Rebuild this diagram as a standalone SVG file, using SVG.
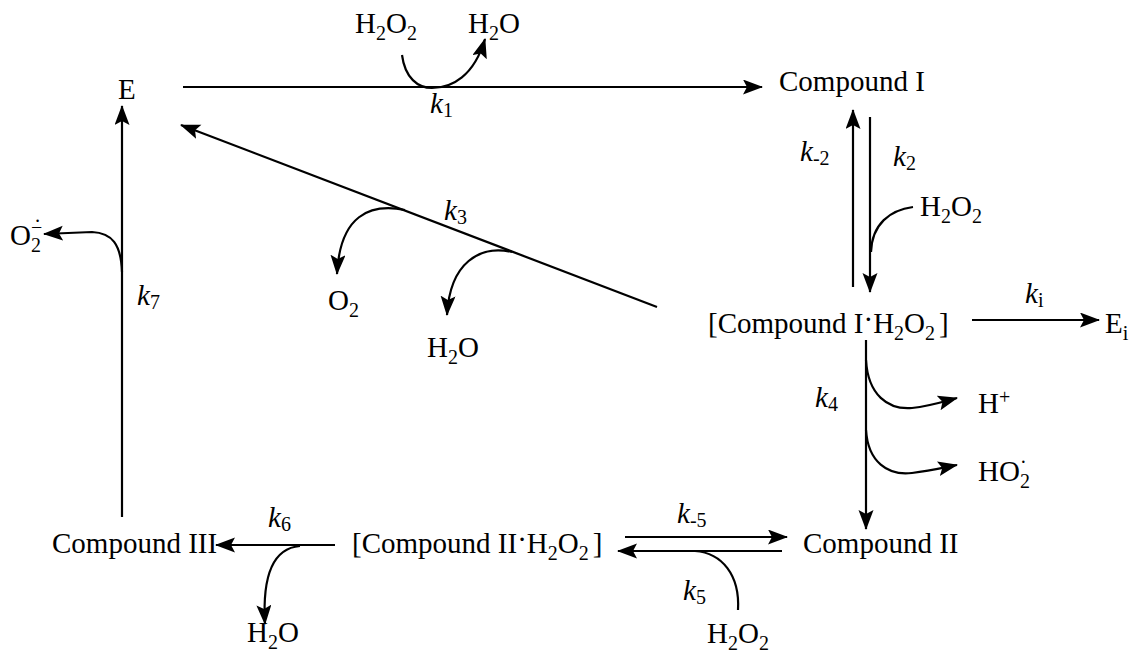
<svg xmlns="http://www.w3.org/2000/svg" width="1142" height="655" viewBox="0 0 1142 655">
<style>
text{font-family:"Liberation Serif","Times New Roman",serif;font-size:29px;fill:#000}
.k{font-style:italic}
.s{font-size:20px;font-style:normal}
.ln{fill:none;stroke:#000;stroke-width:2.2}
</style>
<defs>
<marker id="ah" markerUnits="userSpaceOnUse" markerWidth="22" markerHeight="16" refX="19" refY="7.5" orient="auto">
<path d="M0,0 L20,7.5 L0,15 L4,7.5 z" fill="#000"/>
</marker>
</defs>
<rect width="1142" height="655" fill="#fff"/>
<g id="connectors">
<path class="ln" d="M183,87 L762,87" marker-end="url(#ah)"/>
<path class="ln" d="M402,55 C405,78 418,88 432,88 C452,88 474,76 485,39" marker-end="url(#ah)"/>
<path class="ln" d="M853,287 L853,110" marker-end="url(#ah)"/>
<path class="ln" d="M870,117 L870,292" marker-end="url(#ah)"/>
<path class="ln" d="M913,207 C890,210 872,224 871,252"/>
<path class="ln" d="M972,320 L1099,320" marker-end="url(#ah)"/>
<path class="ln" d="M866,340 L866,529" marker-end="url(#ah)"/>
<path class="ln" d="M866,360 C868,395 888,410 912,408 C930,406 942,402 957,398" marker-end="url(#ah)"/>
<path class="ln" d="M866,430 C868,462 888,476 912,473 C930,471 942,468 957,465" marker-end="url(#ah)"/>
<path class="ln" d="M625,537 L787,537" marker-end="url(#ah)"/>
<path class="ln" d="M782,551 L618,551" marker-end="url(#ah)"/>
<path class="ln" d="M738,610 C740,575 722,553 695,551"/>
<path class="ln" d="M335,545 L216,545" marker-end="url(#ah)"/>
<path class="ln" d="M300,546 C275,548 262,572 265,624" marker-end="url(#ah)"/>
<path class="ln" d="M122,517 L122,106" marker-end="url(#ah)"/>
<path class="ln" d="M122,272 C121,244 112,233 92,232 L44,234" marker-end="url(#ah)"/>
<path class="ln" d="M657,307 L181,125" marker-end="url(#ah)"/>
<path class="ln" d="M405,210 C370,203 340,215 337,274" marker-end="url(#ah)"/>
<path class="ln" d="M512,252 C480,245 450,262 447,315" marker-end="url(#ah)"/>
</g>
<g id="E"><text x="118" y="99">E</text></g>
<g id="CompoundI"><text x="779" y="91">Compound I</text></g>
<g id="CompoundI_H2O2"><text x="708" y="333">[Compound I<tspan dy="-4">·</tspan><tspan dy="4">H</tspan><tspan class="s" dy="7">2</tspan><tspan dy="-7">O</tspan><tspan class="s" dy="7">2</tspan><tspan dx="4" dy="-7">]</tspan></text></g>
<g id="Ei"><text x="1105" y="333">E<tspan class="s" dy="7">i</tspan></text></g>
<g id="CompoundII"><text x="803" y="553">Compound II</text></g>
<g id="CompoundII_H2O2"><text x="352" y="553">[Compound II<tspan dy="-4">·</tspan><tspan dy="4">H</tspan><tspan class="s" dy="7">2</tspan><tspan dy="-7">O</tspan><tspan class="s" dy="7">2</tspan><tspan dx="4" dy="-7">]</tspan></text></g>
<g id="CompoundIII"><text x="52" y="553">Compound III</text></g>
<g id="labels">
<text x="355" y="33">H<tspan class="s" dy="7">2</tspan><tspan dy="-7">O</tspan><tspan class="s" dy="7">2</tspan></text>
<text x="468" y="33">H<tspan class="s" dy="7">2</tspan><tspan dy="-7">O</tspan></text>
<text class="k" x="430" y="113">k<tspan class="s" dy="4">1</tspan></text>
<text class="k" x="800" y="161">k<tspan class="s" dy="4">-2</tspan></text>
<text class="k" x="893" y="166">k<tspan class="s" dy="4">2</tspan></text>
<text x="920" y="216">H<tspan class="s" dy="7">2</tspan><tspan dy="-7">O</tspan><tspan class="s" dy="7">2</tspan></text>
<text class="k" x="1025" y="303">k<tspan class="s" dy="4">i</tspan></text>
<text class="k" x="815" y="407">k<tspan class="s" dy="4">4</tspan></text>
<text x="978" y="413">H<tspan class="s" dy="-9">+</tspan></text>
<text x="978" y="481">HO<tspan class="s" dy="7">2</tspan><tspan class="s" dx="-10" dy="-19">·</tspan></text>
<text class="k" x="677" y="523">k<tspan class="s" dy="4">-5</tspan></text>
<text class="k" x="683" y="600">k<tspan class="s" dy="4">5</tspan></text>
<text x="707" y="643">H<tspan class="s" dy="7">2</tspan><tspan dy="-7">O</tspan><tspan class="s" dy="7">2</tspan></text>
<text class="k" x="268" y="527">k<tspan class="s" dy="4">6</tspan></text>
<text x="247" y="642">H<tspan class="s" dy="7">2</tspan><tspan dy="-7">O</tspan></text>
<text class="k" x="137" y="305">k<tspan class="s" dy="4">7</tspan></text>
<text x="10" y="245">O<tspan class="s" dy="7">2</tspan><tspan class="s" dx="-10" dy="-18">−</tspan><tspan class="s" dx="-8" dy="-6">·</tspan></text>
<text class="k" x="444" y="220">k<tspan class="s" dy="4">3</tspan></text>
<text x="328" y="310">O<tspan class="s" dy="7">2</tspan></text>
<text x="427" y="357">H<tspan class="s" dy="7">2</tspan><tspan dy="-7">O</tspan></text>
</g>
</svg>
